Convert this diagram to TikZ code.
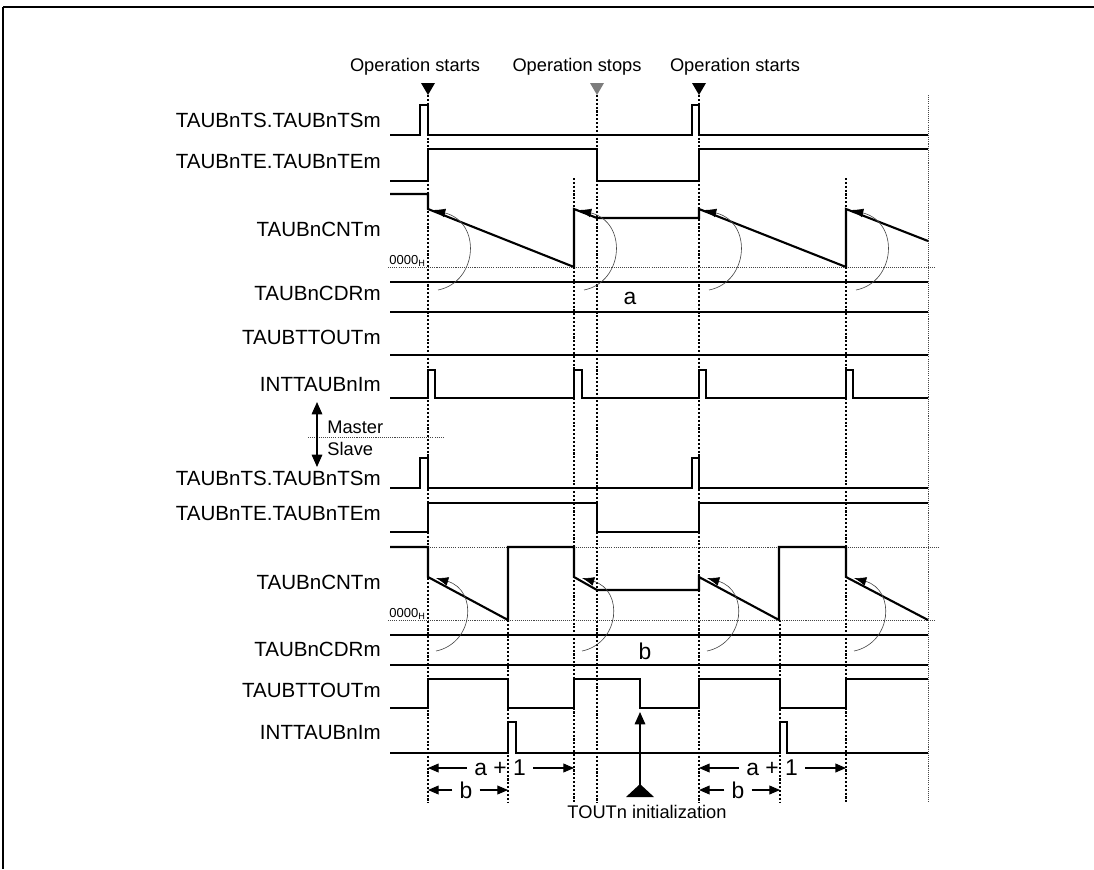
\documentclass[tikz,border=0pt]{standalone}
\usepackage{fontspec}
\setmainfont{Liberation Sans}
\usetikzlibrary{arrows.meta,positioning}
\definecolor{guidegray}{RGB}{70,70,70}
\definecolor{stopgray}{RGB}{125,125,125}

\begin{document}
\begin{tikzpicture}[x=0.02cm,y=-0.02cm,
  sig/.style={line width=1.2pt,line join=miter},
  guide/.style={line width=0.75pt,dash pattern=on 1.2pt off 1pt},
  fineguide/.style={line width=0.4pt,guidegray,dash pattern=on 0.6pt off 0.6pt},
  reload/.style={line width=0.35pt,guidegray,-{Latex[length=7pt,width=5pt,black]}},
  dim/.style={line width=0.6pt,-{Triangle[length=6pt,width=5pt]}},
  lbl/.style={anchor=east,font=\fontsize{11.7}{13}\selectfont,inner sep=0pt},
  optext/.style={font=\fontsize{10.4}{12}\selectfont,inner sep=0pt},
  val/.style={font=\fontsize{13}{15}\selectfont,inner ysep=0pt,inner xsep=4pt},
  zero/.style={font=\fontsize{7.4}{8}\selectfont,inner sep=0pt,anchor=base west}]
\useasboundingbox (0,0) rectangle (1094,869);
% Frame
\draw[line width=1.4pt] (3,7) -- (1094,7);
\draw[line width=0.7pt] (3,7) -- (3,869);
% Timing guides
\foreach \x/\a in {428/95,597/95,699/95,574/178,846/178,508/620,780/620} {\draw[guide] (\x,\a) -- (\x,803);}
\draw[fineguide] (928,95) -- (928,803);
\draw[fineguide] (388,267) -- (935,267);
\draw[fineguide] (388,620) -- (935,620);
\draw[fineguide] (428,547) -- (940,547);
\draw[fineguide] (308,437) -- (445,437);
% Start / stop markers
\node[optext] (start1) at (415,67) {Operation starts};
\node[optext] (stop1) at (577,67) {Operation stops};
\node[optext] (start2) at (735,67) {Operation starts};
\fill (421,83) -- (435,83) -- (428,95) -- cycle;
\fill[stopgray] (590,83) -- (604,83) -- (597,95) -- cycle;
\fill (692,83) -- (706,83) -- (699,95) -- cycle;
% Signal names
\foreach \n/\y/\t in {mts/120/TAUBnTS.TAUBnTSm, mte/162/TAUBnTE.TAUBnTEm, mcnt/229/TAUBnCNTm,
  mcdr/293/TAUBnCDRm, mtout/337/TAUBTTOUTm, mint/385/INTTAUBnIm,
  sts/478/TAUBnTS.TAUBnTSm, ste/514/TAUBnTE.TAUBnTEm, scnt/582/TAUBnCNTm,
  scdr/649/TAUBnCDRm, stout/690/TAUBTTOUTm, sint/733/INTTAUBnIm}
  {\node[lbl] (\n) at (381,\y) {\t};}
% Master channel
\draw[sig] (390,135) -- (420,135) -- (420,105) -- (428,105) -- (428,135) -- (692,135) -- (692,105) -- (699,105) -- (699,135) -- (928,135);
\draw[sig] (390,181) -- (428,181) -- (428,149) -- (597,149) -- (597,181) -- (699,181) -- (699,149) -- (928,149);
\draw[sig] (390,194) -- (428,194) -- (428,209) -- (574,267) -- (574,209) -- (597,218) -- (699,218) -- (699,209) -- (846,267) -- (846,209) -- (928,241);
\node[zero] (mzero) at (389,264) {0000\textsubscript{H}};
\draw[sig] (390,282) -- (928,282);
\draw[sig] (390,312) -- (928,312);
\node[val] (mval) at (630,298) {a};
\draw[sig] (390,355) -- (928,355);
\draw[sig] (390,398) -- (428,398) -- (428,370) -- (435,370) -- (435,398) -- (574,398) -- (574,370) -- (582,370) -- (582,398) -- (699,398) -- (699,370) -- (706,370) -- (706,398) -- (846,398) -- (846,370) -- (853,370) -- (853,398) -- (928,398);
\foreach \x in {428,574,699,846} {\draw[reload] (\x+10,290) .. controls (\x+50,282) and (\x+54,222) .. (\x+5,210);}
% Master / slave divider
\node[optext,anchor=west] (mst) at (327,427) {Master};
\node[optext,anchor=west] (slv) at (327,449) {Slave};
\draw[line width=0.8pt,{Triangle[length=7pt,width=6pt]}-{Triangle[length=7pt,width=6pt]}] (317,402) -- (317,467);
% Slave channel
\draw[sig] (390,488) -- (420,488) -- (420,458) -- (428,458) -- (428,488) -- (692,488) -- (692,458) -- (699,458) -- (699,488) -- (928,488);
\draw[sig] (390,532) -- (428,532) -- (428,503) -- (597,503) -- (597,532) -- (699,532) -- (699,503) -- (928,503);
\draw[sig] (390,547) -- (428,547) -- (428,577) -- (508,620) -- (508,547) -- (574,547) -- (574,577) -- (597,590) -- (699,590) -- (699,577) -- (779,620) -- (779,547) -- (846,547) -- (846,577) -- (928,620);
\node[zero] (szero) at (389,617) {0000\textsubscript{H}};
\draw[sig] (390,635) -- (928,635);
\draw[sig] (390,665) -- (928,665);
\node[val] (sval) at (645,651) {b};
\draw[sig] (390,708) -- (428,708) -- (428,679) -- (508,679) -- (508,708) -- (574,708) -- (574,679) -- (640,679) -- (640,708) -- (699,708) -- (699,679) -- (780,679) -- (780,708) -- (846,708) -- (846,679) -- (928,679);
\draw[sig] (390,753) -- (508,753) -- (508,722) -- (516,722) -- (516,753) -- (780,753) -- (780,722) -- (787,722) -- (787,753) -- (928,753);
\foreach \x in {428,574,699,846} {\draw[reload] (\x+8,651) .. controls (\x+46,643) and (\x+50,590) .. (\x+8,578);}
% Periods
\node[val] (aone1) at (500,768) {a + 1};
\node[val] (bee1) at (466,790) {b};
\node[val] (aone2) at (772,768) {a + 1};
\node[val] (bee2) at (738,790) {b};
\coordinate (pa1) at (428,768); \coordinate (pa2) at (574,768);
\coordinate (pb1) at (428,790); \coordinate (pb2) at (508,790);
\coordinate (pa3) at (699,768); \coordinate (pa4) at (846,768);
\coordinate (pb3) at (699,790); \coordinate (pb4) at (780,790);
\draw[dim] (aone1.west) -- (pa1); \draw[dim] (aone1.east) -- (pa2);
\draw[dim] (bee1.west) -- (pb1); \draw[dim] (bee1.east) -- (pb2);
\draw[dim] (aone2.west) -- (pa3); \draw[dim] (aone2.east) -- (pa4);
\draw[dim] (bee2.west) -- (pb3); \draw[dim] (bee2.east) -- (pb4);
% TOUTn initialization
\node[optext] (tinit) at (647,812) {TOUTn initialization};
\fill (626,797) -- (654,797) -- (640,784) -- cycle;
\coordinate (tbase) at (640,786);
\coordinate (ttip) at (640,712);
\draw[line width=0.8pt,-{Triangle[length=7pt,width=6pt]}] (tbase) -- (ttip);
\end{tikzpicture}
\end{document}
